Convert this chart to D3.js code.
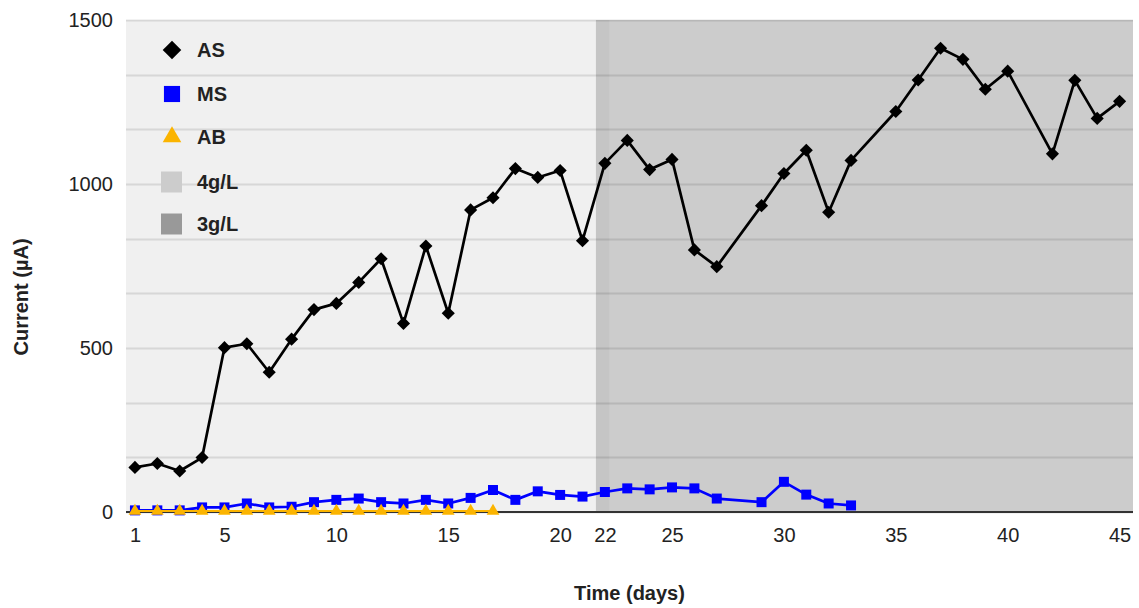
<!DOCTYPE html>
<html>
<head>
<meta charset="utf-8">
<script src="https://cdn.jsdelivr.net/npm/d3@7"></script>
<style>
  html, body { margin: 0; padding: 0; background: #fff; }
  svg { display: block; font-family: "Liberation Sans", Arial, sans-serif; }
</style>
</head>
<body>
<svg id="chart" width="1139" height="608"></svg>
<script>
// ---- data ----
const asDays = [1,2,3,4,5,6,7,8,9,10,11,12,13,14,15,16,17,18,19,20,21,22,23,24,25,26,27,29,30,31,32,33,35,36,37,38,39,40,42,43,44,45];
const asValues = [136,148,125,166,501,513,426,527,617,636,700,772,575,811,606,921,958,1047,1020,1041,827,1063,1133,1044,1075,799,748,934,1032,1103,914,1072,1221,1317,1414,1380,1289,1344,1092,1316,1200,1252];
const msDays = [1,2,3,4,5,6,7,8,9,10,11,12,13,14,15,16,17,18,19,20,21,22,23,24,25,26,27,29,30,31,32,33];
const msValues = [5,5,5,14,14,26,14,16,30,37,41,30,26,37,26,43,67,37,63,52,47,61,72,69,75,72,41,30,92,53,26,20];
const abDays = [1,2,3,4,5,6,7,8,9,10,11,12,13,14,15,16,17];
const abValues = [3,3,3,3,3,3,3,3,3,3,3,3,3,3,3,3,3];
const bandNames = ["4g/L", "3g/L"];
const bandStart = [0.6, 21.6];
const bandEnd = [22.2, 45.6];
const xTicks = [1,5,10,15,20,22,25,30,35,40,45];
const yTicks = [0,500,1000,1500];
const yGrid = [0,166.67,333.33,500,666.67,833.33,1000,1166.67,1333.33,1500];
const seriesNames = ["AS","MS","AB"];

// ---- layout ----
const svg = d3.select("#chart");
const pLeft = 126, pRight = 1133, pTop = 20, pBottom = 512;
const x = d3.scaleLinear().domain([0.6, 45.6]).range([pLeft, pRight]);
const y = d3.scaleLinear().domain([0, 1500]).range([pBottom, pTop]);

const bandFill = ["#cccccc", "#999999"];
const bandOpacity = [0.3, 0.5];

// bands
svg.append("g").selectAll("rect").data(bandNames).join("rect")
  .attr("x", (d,i) => x(bandStart[i]))
  .attr("width", (d,i) => x(bandEnd[i]) - x(bandStart[i]))
  .attr("y", pTop).attr("height", pBottom - pTop)
  .attr("fill", (d,i) => bandFill[i])
  .attr("fill-opacity", (d,i) => bandOpacity[i]);

// gridlines
svg.append("g").selectAll("line").data(yGrid).join("line")
  .attr("x1", pLeft).attr("x2", pRight)
  .attr("y1", d => Math.round(y(d)) + 0.5).attr("y2", d => Math.round(y(d)) + 0.5)
  .attr("stroke", "#000").attr("stroke-opacity", 0.1).attr("stroke-width", 2);

// y axis labels
const yAxis = d3.axisLeft(y).tickValues(yTicks).tickSize(0).tickPadding(13).tickFormat(d3.format("d"));
const gy = svg.append("g").attr("transform", `translate(${pLeft},0)`).call(yAxis);
gy.select(".domain").remove();
gy.selectAll("text").attr("font-size", 20).attr("fill", "#222").attr("font-family", "Liberation Sans, Arial, sans-serif");

// x axis
const xAxis = d3.axisBottom(x).tickValues(xTicks).tickSize(0).tickPadding(16).tickFormat(d3.format("d"));
const gx = svg.append("g").attr("transform", `translate(0,${pBottom})`).call(xAxis);
gx.select(".domain").remove();
gx.selectAll("text").attr("font-size", 20).attr("fill", "#222").attr("font-family", "Liberation Sans, Arial, sans-serif");
svg.append("line").attr("x1", pLeft).attr("x2", pRight).attr("y1", pBottom).attr("y2", pBottom)
  .attr("stroke", "#333").attr("stroke-width", 2);

// series
const line = d3.line().x(d => x(d[0])).y(d => y(d[1]));
const asData = asDays.map((d,i) => [d, asValues[i]]);
const msData = msDays.map((d,i) => [d, msValues[i]]);
const abData = abDays.map((d,i) => [d, abValues[i]]);

const diamond = d3.symbol().type(d3.symbolDiamond2).size(110);
const square = d3.symbol().type(d3.symbolSquare).size(100);
const triangle = d3.symbol().type(d3.symbolTriangle).size(70);

function drawSeries(data, color, sym, lw) {
  const g = svg.append("g");
  g.append("path").datum(data).attr("d", line).attr("fill", "none")
    .attr("stroke", color).attr("stroke-width", lw).attr("stroke-linejoin", "round");
  g.selectAll("path.m").data(data).join("path").attr("class", "m")
    .attr("d", sym).attr("transform", d => `translate(${x(d[0])},${y(d[1])})`)
    .attr("fill", color);
}
drawSeries(asData, "#000000", diamond, 2.7);
drawSeries(msData, "#0000ff", square, 2.7);
drawSeries(abData, "#fbb400", triangle, 2);

// legend
const legendColors = ["#000000", "#0000ff", "#fbb400"];
const legendSyms = [
  d3.symbol().type(d3.symbolDiamond2).size(220),
  d3.symbol().type(d3.symbolSquare).size(260),
  d3.symbol().type(d3.symbolTriangle).size(150)
];
const legendY = [50, 94, 137, 182, 224];
const lg = svg.append("g");
seriesNames.forEach((n, i) => {
  lg.append("path").attr("d", legendSyms[i]()).attr("transform", `translate(172,${legendY[i]})`).attr("fill", legendColors[i]);
  lg.append("text").attr("x", 197).attr("y", legendY[i]).attr("dy", "0.36em")
    .attr("font-size", 20).attr("font-weight", "bold").attr("fill", "#222").text(n);
});
const swatchColors = ["#cccccc", "#999999"];
bandNames.forEach((n, i) => {
  const yy = legendY[3 + i];
  lg.append("rect").attr("x", 161).attr("y", yy - 10.5).attr("width", 21).attr("height", 21).attr("fill", swatchColors[i]);
  lg.append("text").attr("x", 197).attr("y", yy).attr("dy", "0.36em")
    .attr("font-size", 20).attr("font-weight", "bold").attr("fill", "#222").text(n);
});

// axis titles
svg.append("text").attr("x", (pLeft + pRight) / 2).attr("y", 600).attr("text-anchor", "middle")
  .attr("font-size", 20).attr("font-weight", "bold").attr("fill", "#222").text("Time (days)");
svg.append("text").attr("transform", "translate(28,297) rotate(-90)").attr("text-anchor", "middle")
  .attr("font-size", 20).attr("font-weight", "bold").attr("fill", "#222").text("Current (µA)");
</script>
</body>
</html>
